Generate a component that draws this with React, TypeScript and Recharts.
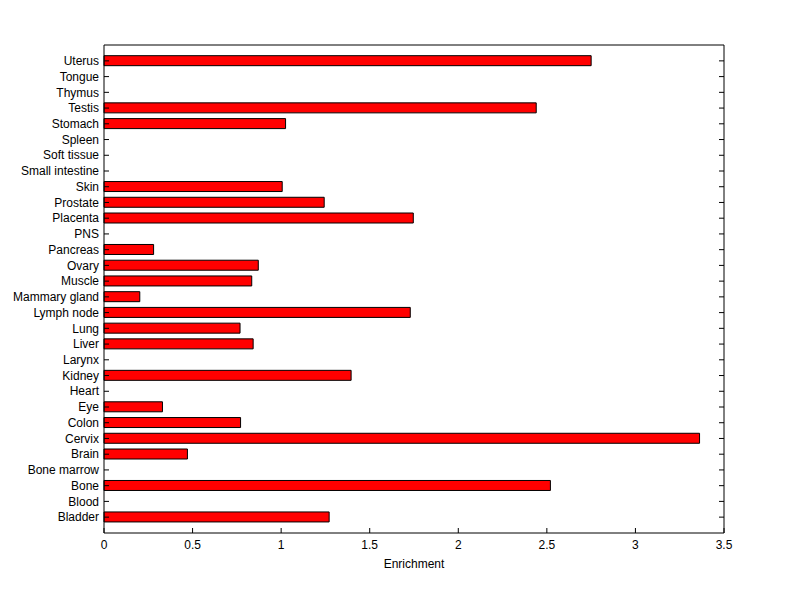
import { BarChart, Bar, XAxis, YAxis } from 'recharts'

// categories top to bottom, as in the reference
const tissues = [
  'Uterus', 'Tongue', 'Thymus', 'Testis', 'Stomach', 'Spleen', 'Soft tissue',
  'Small intestine', 'Skin', 'Prostate', 'Placenta', 'PNS', 'Pancreas', 'Ovary',
  'Muscle', 'Mammary gland', 'Lymph node', 'Lung', 'Liver', 'Larynx', 'Kidney',
  'Heart', 'Eye', 'Colon', 'Cervix', 'Brain', 'Bone marrow', 'Bone', 'Blood', 'Bladder',
]

const enrichment = [
  2.75, 0, 0, 2.44, 1.025, 0, 0,
  0, 1.006, 1.243, 1.746, 0, 0.28, 0.871,
  0.834, 0.202, 1.729, 0.768, 0.842, 0, 1.395,
  0, 0.33, 0.771, 3.362, 0.471, 0, 2.52, 0, 1.271,
]

const xTicks = [0, 0.5, 1, 1.5, 2, 2.5, 3, 3.5]

const data = tissues.map((name, i) => ({ name, value: enrichment[i] }))

const font = { fontFamily: 'Liberation Sans, Arial, sans-serif', fontSize: 12 }
const TICK = 5
const catPad = { top: 8, bottom: 8 }

function LeftTick({ x, y, payload }: any) {
  return (
    <g>
      <line x1={x} y1={y} x2={x + TICK} y2={y} stroke="#000" />
      <text x={x - 5} y={y} dy="0.35em" textAnchor="end" fill="#000" style={font}>
        {payload.value}
      </text>
    </g>
  )
}

function RightTick({ x, y }: any) {
  return <line x1={x - TICK} y1={y} x2={x} y2={y} stroke="#000" />
}

function BottomTick({ x, y, payload }: any) {
  return (
    <g>
      <line x1={x} y1={y} x2={x} y2={y - TICK} stroke="#000" />
      <text x={x} y={y + 12} dy="0.35em" textAnchor="middle" fill="#000" style={font}>
        {payload.value}
      </text>
    </g>
  )
}

function TopTick({ x, y }: any) {
  return <line x1={x} y1={y} x2={x} y2={y + TICK} stroke="#000" />
}

export default function App() {
  return (
    <div style={{ position: 'absolute', left: 0, top: 0, background: '#fff' }}>
      <BarChart
        width={800}
        height={599}
        data={data}
        layout="vertical"
        barCategoryGap="17%"
        margin={{ top: 40, right: 66, bottom: 26, left: 0 }}
      >
        <XAxis
          xAxisId="b"
          type="number"
          domain={[0, 3.5]}
          ticks={xTicks}
          height={40}
          tickSize={0}
          tickMargin={0}
          tickLine={false}
          tick={<BottomTick />}
          stroke="#000"
          label={{ value: 'Enrichment', position: 'insideBottom', offset: 5, fill: '#000', style: font }}
        />
        <XAxis
          xAxisId="t"
          orientation="top"
          type="number"
          domain={[0, 3.5]}
          ticks={xTicks}
          height={5}
          tickSize={0}
          tickMargin={0}
          tickLine={false}
          tick={<TopTick />}
          stroke="#000"
        />
        <YAxis
          yAxisId="l"
          type="category"
          dataKey="name"
          width={104}
          interval={0}
          padding={catPad}
          tickSize={0}
          tickMargin={0}
          tickLine={false}
          tick={<LeftTick />}
          stroke="#000"
        />
        <YAxis
          yAxisId="r"
          orientation="right"
          type="category"
          dataKey="name"
          width={10}
          interval={0}
          padding={catPad}
          tickSize={0}
          tickMargin={0}
          tickLine={false}
          tick={<RightTick />}
          stroke="#000"
        />
        <Bar
          xAxisId="b"
          yAxisId="l"
          dataKey="value"
          fill="#ff0000"
          stroke="#000"
          strokeWidth={1}
          isAnimationActive={false}
        />
      </BarChart>
    </div>
  )
}
